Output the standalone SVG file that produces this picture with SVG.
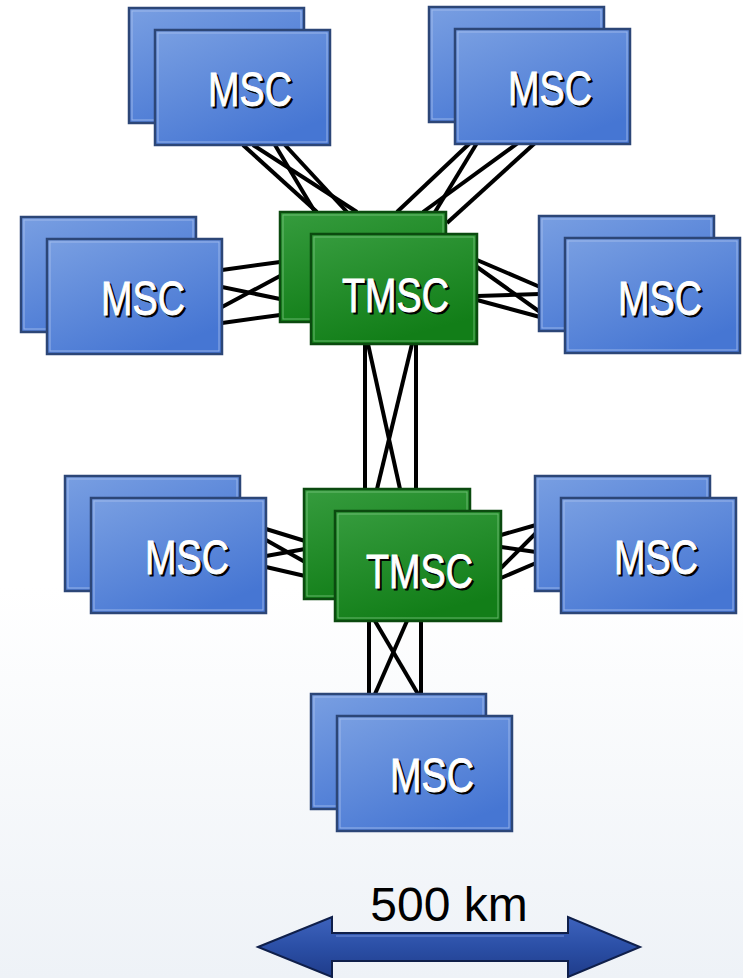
<svg xmlns="http://www.w3.org/2000/svg" width="743" height="978" viewBox="0 0 743 978">
  <defs>
    <linearGradient id="bg" x1="0" y1="0" x2="0" y2="1">
      <stop offset="0" stop-color="#ffffff"/>
      <stop offset="0.6" stop-color="#ffffff"/>
      <stop offset="1" stop-color="#eef2f7"/>
    </linearGradient>
    <linearGradient id="blue" x1="0" y1="0" x2="0.6" y2="1">
      <stop offset="0" stop-color="#799fe2"/>
      <stop offset="1" stop-color="#4676d3"/>
    </linearGradient>
    <linearGradient id="green" x1="0" y1="0" x2="0.4" y2="1">
      <stop offset="0" stop-color="#369c3e"/>
      <stop offset="1" stop-color="#127e18"/>
    </linearGradient>
    <linearGradient id="arrowFill" x1="0" y1="0" x2="0" y2="1">
      <stop offset="0" stop-color="#3e63bd"/>
      <stop offset="0.5" stop-color="#2b4fa6"/>
      <stop offset="1" stop-color="#1f3c8a"/>
    </linearGradient>
    <style>
      .msc { fill: url(#blue); stroke: #2c4677; stroke-width: 2.5; }
      .tmsc { fill: url(#green); stroke: #0b4a0f; stroke-width: 2.5; }
      .hl-b { fill: none; stroke: #a9c1ee; stroke-width: 1; opacity: 0.8; }
      .hl-g { fill: none; stroke: #7cc47f; stroke-width: 1; opacity: 0.8; }
      .lbl { font-family: "Liberation Sans", Arial, sans-serif; font-size: 49px; stroke-width: 0.9; }
      .sh { fill: #000000; stroke: #000000; }
      .wt { fill: #ffffff; stroke: #ffffff; }
      .link { stroke: #000000; stroke-width: 4; fill: none; stroke-linecap: butt; }
      .km { font-family: "Liberation Sans", Arial, sans-serif; font-size: 48px; fill: #000000; }
    </style>
  </defs>

  <rect x="0" y="0" width="743" height="978" fill="url(#bg)"/>

  <g id="connectors">
    <line class="link" x1="243" y1="145" x2="317" y2="212"/>
    <line class="link" x1="253" y1="145" x2="357" y2="212"/>
    <line class="link" x1="275" y1="145" x2="315" y2="212"/>
    <line class="link" x1="285" y1="145" x2="347" y2="212"/>
    <line class="link" x1="470" y1="143" x2="397" y2="212"/>
    <line class="link" x1="477" y1="143" x2="435" y2="212"/>
    <line class="link" x1="518" y1="143" x2="423" y2="212"/>
    <line class="link" x1="535" y1="143" x2="447" y2="223"/>
    <line class="link" x1="222" y1="270" x2="280" y2="262"/>
    <line class="link" x1="222" y1="287" x2="280" y2="299"/>
    <line class="link" x1="222" y1="307" x2="280" y2="276"/>
    <line class="link" x1="222" y1="323" x2="280" y2="315"/>
    <line class="link" x1="477" y1="260" x2="540" y2="287"/>
    <line class="link" x1="477" y1="267" x2="540" y2="312"/>
    <line class="link" x1="477" y1="296" x2="540" y2="294"/>
    <line class="link" x1="477" y1="300" x2="540" y2="317"/>
    <line class="link" x1="365" y1="344" x2="365" y2="489"/>
    <line class="link" x1="416" y1="344" x2="416" y2="489"/>
    <line class="link" x1="368" y1="344" x2="400" y2="489"/>
    <line class="link" x1="412" y1="344" x2="377" y2="489"/>
    <line class="link" x1="266" y1="529" x2="305" y2="541"/>
    <line class="link" x1="266" y1="540" x2="305" y2="562"/>
    <line class="link" x1="266" y1="556" x2="305" y2="549"/>
    <line class="link" x1="266" y1="567" x2="305" y2="576"/>
    <line class="link" x1="501" y1="535" x2="536" y2="525"/>
    <line class="link" x1="501" y1="547" x2="536" y2="552"/>
    <line class="link" x1="501" y1="568" x2="536" y2="533"/>
    <line class="link" x1="501" y1="578" x2="536" y2="563"/>
    <line class="link" x1="369" y1="621" x2="369" y2="694"/>
    <line class="link" x1="421" y1="621" x2="421" y2="694"/>
    <line class="link" x1="375" y1="621" x2="418" y2="694"/>
    <line class="link" x1="407" y1="621" x2="375" y2="694"/>
  </g>

  <g id="msc-top-left">
    <rect class="msc" x="129" y="8" width="175" height="115"/>
    <rect class="hl-b" x="132" y="11" width="169" height="109"/>
    <rect class="msc" x="155" y="30" width="175" height="115"/>
    <rect class="hl-b" x="158" y="33" width="169" height="109"/>
    <text class="lbl sh" x="210" y="108" textLength="84" lengthAdjust="spacingAndGlyphs">MSC</text>
    <text class="lbl wt" x="208" y="106" textLength="84" lengthAdjust="spacingAndGlyphs">MSC</text>
  </g>

  <g id="msc-top-right">
    <rect class="msc" x="429" y="7" width="175" height="115"/>
    <rect class="hl-b" x="432" y="10" width="169" height="109"/>
    <rect class="msc" x="455" y="29" width="175" height="115"/>
    <rect class="hl-b" x="458" y="32" width="169" height="109"/>
    <text class="lbl sh" x="510" y="107" textLength="84" lengthAdjust="spacingAndGlyphs">MSC</text>
    <text class="lbl wt" x="508" y="105" textLength="84" lengthAdjust="spacingAndGlyphs">MSC</text>
  </g>

  <g id="msc-mid-left">
    <rect class="msc" x="21" y="217" width="175" height="115"/>
    <rect class="hl-b" x="24" y="220" width="169" height="109"/>
    <rect class="msc" x="47" y="239" width="175" height="115"/>
    <rect class="hl-b" x="50" y="242" width="169" height="109"/>
    <text class="lbl sh" x="103" y="317" textLength="84" lengthAdjust="spacingAndGlyphs">MSC</text>
    <text class="lbl wt" x="101" y="315" textLength="84" lengthAdjust="spacingAndGlyphs">MSC</text>
  </g>

  <g id="msc-mid-right">
    <rect class="msc" x="539" y="216" width="175" height="115"/>
    <rect class="hl-b" x="542" y="219" width="169" height="109"/>
    <rect class="msc" x="565" y="238" width="175" height="115"/>
    <rect class="hl-b" x="568" y="241" width="169" height="109"/>
    <text class="lbl sh" x="620" y="317" textLength="84" lengthAdjust="spacingAndGlyphs">MSC</text>
    <text class="lbl wt" x="618" y="315" textLength="84" lengthAdjust="spacingAndGlyphs">MSC</text>
  </g>

  <g id="tmsc-top">
    <rect class="tmsc" x="280" y="212" width="166" height="110"/>
    <rect class="hl-g" x="283" y="215" width="160" height="104"/>
    <rect class="tmsc" x="311" y="234" width="166" height="110"/>
    <rect class="hl-g" x="314" y="237" width="160" height="104"/>
    <text class="lbl sh" x="344" y="314" textLength="107" lengthAdjust="spacingAndGlyphs">TMSC</text>
    <text class="lbl wt" x="342" y="312" textLength="107" lengthAdjust="spacingAndGlyphs">TMSC</text>
  </g>

  <g id="msc-low-left">
    <rect class="msc" x="65" y="476" width="175" height="115"/>
    <rect class="hl-b" x="68" y="479" width="169" height="109"/>
    <rect class="msc" x="91" y="498" width="175" height="115"/>
    <rect class="hl-b" x="94" y="501" width="169" height="109"/>
    <text class="lbl sh" x="147" y="576" textLength="84" lengthAdjust="spacingAndGlyphs">MSC</text>
    <text class="lbl wt" x="145" y="574" textLength="84" lengthAdjust="spacingAndGlyphs">MSC</text>
  </g>

  <g id="msc-low-right">
    <rect class="msc" x="535" y="476" width="175" height="115"/>
    <rect class="hl-b" x="538" y="479" width="169" height="109"/>
    <rect class="msc" x="561" y="498" width="175" height="115"/>
    <rect class="hl-b" x="564" y="501" width="169" height="109"/>
    <text class="lbl sh" x="616" y="576" textLength="84" lengthAdjust="spacingAndGlyphs">MSC</text>
    <text class="lbl wt" x="614" y="574" textLength="84" lengthAdjust="spacingAndGlyphs">MSC</text>
  </g>

  <g id="tmsc-low">
    <rect class="tmsc" x="304" y="489" width="166" height="110"/>
    <rect class="hl-g" x="307" y="492" width="160" height="104"/>
    <rect class="tmsc" x="335" y="511" width="166" height="110"/>
    <rect class="hl-g" x="338" y="514" width="160" height="104"/>
    <text class="lbl sh" x="368" y="590" textLength="107" lengthAdjust="spacingAndGlyphs">TMSC</text>
    <text class="lbl wt" x="366" y="588" textLength="107" lengthAdjust="spacingAndGlyphs">TMSC</text>
  </g>

  <g id="msc-bottom">
    <rect class="msc" x="311" y="694" width="175" height="115"/>
    <rect class="hl-b" x="314" y="697" width="169" height="109"/>
    <rect class="msc" x="337" y="716" width="175" height="115"/>
    <rect class="hl-b" x="340" y="719" width="169" height="109"/>
    <text class="lbl sh" x="392" y="794" textLength="84" lengthAdjust="spacingAndGlyphs">MSC</text>
    <text class="lbl wt" x="390" y="792" textLength="84" lengthAdjust="spacingAndGlyphs">MSC</text>
  </g>

  <g id="scale">
    <text class="km" x="449" y="921" text-anchor="middle">500 km</text>
    <path d="M258,947 L332,917 L332,933 L568,933 L568,917 L640,947 L568,977 L568,961 L332,961 L332,977 Z" fill="url(#arrowFill)" stroke="#0f1f4a" stroke-width="2" stroke-linejoin="miter"/>
    <path d="M336,936 L564,936" stroke="#6f8fd8" stroke-width="1.5" fill="none" opacity="0.7"/>
  </g>
</svg>
